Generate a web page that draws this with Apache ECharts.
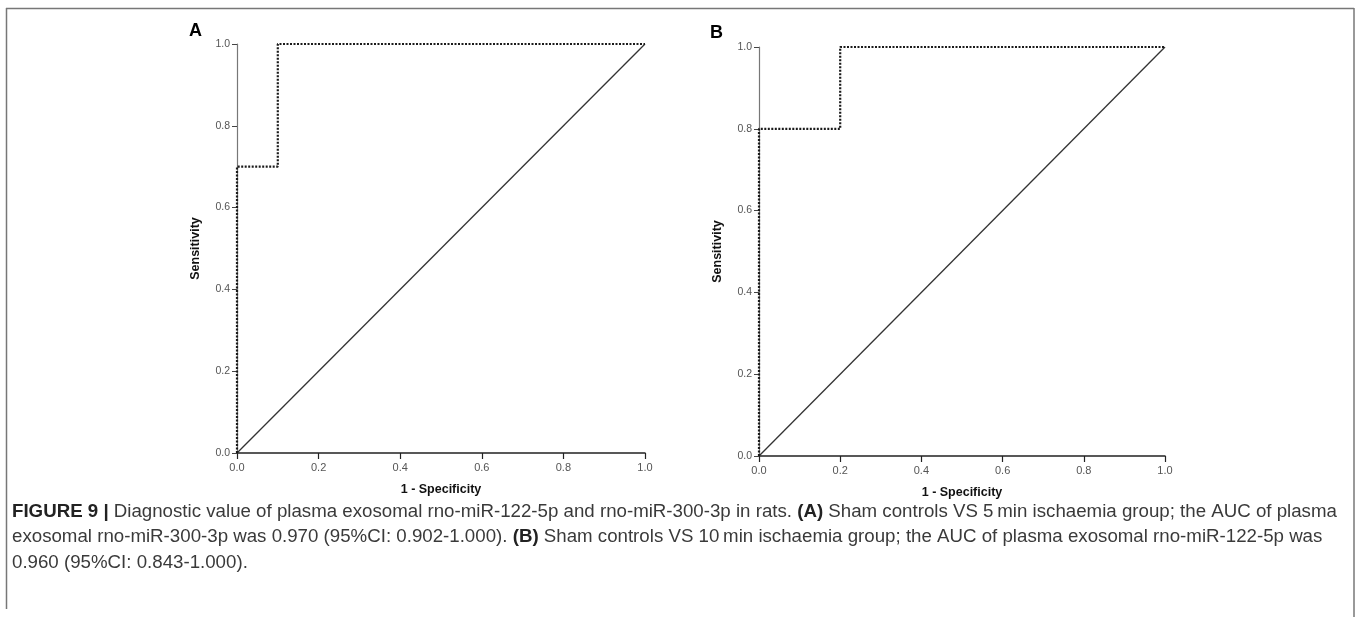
<!DOCTYPE html>
<html>
<head>
<meta charset="utf-8">
<script src="https://cdn.jsdelivr.net/npm/echarts@6/dist/echarts.min.js"></script>
<style>
  html, body { margin: 0; padding: 0; background: #fff; }
  #chart { width: 1357px; height: 619px; }
</style>
</head>
<body>
<div id="chart"></div>
<script>
// ROC curve points (1 - specificity, sensitivity)
const fprA = [0, 0, 0.1, 0.1, 1]
const tprA = [0, 0.7, 0.7, 1, 1]
const fprB = [0, 0, 0.2, 0.2, 1]
const tprB = [0, 0.8, 0.8, 1, 1]
const refLine = [0, 1]

const pairs = (xs, ys) => xs.map((x, i) => [x, ys[i]])

const chart = echarts.init(document.getElementById('chart'))

const axisFont = "'Liberation Sans', Arial, sans-serif"
const capFont = "'Liberation Sans', Arial, sans-serif"

const makeX = (gi) => ({
  type: 'value',
  gridIndex: gi,
  min: 0,
  max: 1,
  interval: 0.2,
  name: '1 - Specificity',
  nameLocation: 'middle',
  nameGap: 30,
  nameTextStyle: { fontFamily: axisFont, fontWeight: 'bold', fontSize: 12.5, color: '#111' },
  axisLine: { show: true, lineStyle: { color: '#222', width: 1.5 } },
  axisTick: { show: true, inside: false, length: 6, lineStyle: { color: '#222', width: 1.2 } },
  axisLabel: { color: '#555', fontSize: 11, fontFamily: axisFont, margin: 9, formatter: v => v.toFixed(1) },
  splitLine: { show: false }
})

const makeY = (gi) => ({
  type: 'value',
  gridIndex: gi,
  min: 0,
  max: 1,
  interval: 0.2,
  name: 'Sensitivity',
  nameLocation: 'middle',
  nameGap: 35,
  nameTextStyle: { fontFamily: axisFont, fontWeight: 'bold', fontSize: 12.5, color: '#111' },
  axisLine: { show: true, lineStyle: { color: '#777', width: 1.2 } },
  axisTick: { show: true, length: 5, lineStyle: { color: '#444', width: 1 } },
  axisLabel: { color: '#555', fontSize: 10.5, fontFamily: axisFont, margin: 7, formatter: v => v.toFixed(1) },
  splitLine: { show: false }
})

const rocSeries = (gi, data) => ({
  type: 'line',
  xAxisIndex: gi,
  yAxisIndex: gi,
  data,
  symbol: 'none',
  animation: false,
  lineStyle: { color: '#1a1a1a', width: 2.2, type: [2, 1.5] },
  z: 3
})

const refSeries = (gi) => ({
  type: 'line',
  xAxisIndex: gi,
  yAxisIndex: gi,
  data: pairs(refLine, refLine),
  symbol: 'none',
  animation: false,
  lineStyle: { color: '#333', width: 1.3 },
  z: 2
})

const caption = [
  '{b|FIGURE 9 |} Diagnostic value of plasma exosomal rno-miR-122-5p and rno-miR-300-3p in rats. {b|(A)} Sham controls VS 5\u2009min ischaemia group; the AUC of plasma',
  'exosomal rno-miR-300-3p was 0.970 (95%CI: 0.902-1.000). {b|(B)} Sham controls VS 10\u2009min ischaemia group; the AUC of plasma exosomal rno-miR-122-5p was',
  '0.960 (95%CI: 0.843-1.000).'
]

chart.setOption({
  animation: false,
  grid: [
    { left: 237, top: 44, width: 408, height: 409 },
    { left: 759, top: 47, width: 406, height: 409 }
  ],
  xAxis: [makeX(0), makeX(1)],
  yAxis: [makeY(0), makeY(1)],
  series: [
    refSeries(0),
    rocSeries(0, pairs(fprA, tprA)),
    refSeries(1),
    rocSeries(1, pairs(fprB, tprB))
  ],
  graphic: [
    // frame
    { type: 'line', shape: { x1: 6, y1: 8.5, x2: 1354, y2: 8.5 }, style: { stroke: '#777', lineWidth: 1.5 } },
    { type: 'line', shape: { x1: 6.5, y1: 8, x2: 6.5, y2: 609 }, style: { stroke: '#777', lineWidth: 1.5 } },
    { type: 'line', shape: { x1: 1354, y1: 8, x2: 1354, y2: 617 }, style: { stroke: '#777', lineWidth: 1.5 } },
    // panel letters
    { type: 'text', left: 189, top: 22, style: { text: 'A', font: "bold 18px 'Liberation Sans', Arial", fill: '#000' } },
    { type: 'text', left: 710, top: 24, style: { text: 'B', font: "bold 18px 'Liberation Sans', Arial", fill: '#000' } },
    // caption
    ...caption.map((line, i) => ({
      type: 'text',
      left: 12,
      top: 502 + i * 25.5,
      style: {
        text: line,
        fontFamily: capFont,
        fontSize: 18.7,
        fill: '#3a3a3a',
        rich: { b: { fontFamily: capFont, fontSize: 18.7, fontWeight: 'bold', fill: '#222' } }
      }
    }))
  ]
})
</script>
</body>
</html>
